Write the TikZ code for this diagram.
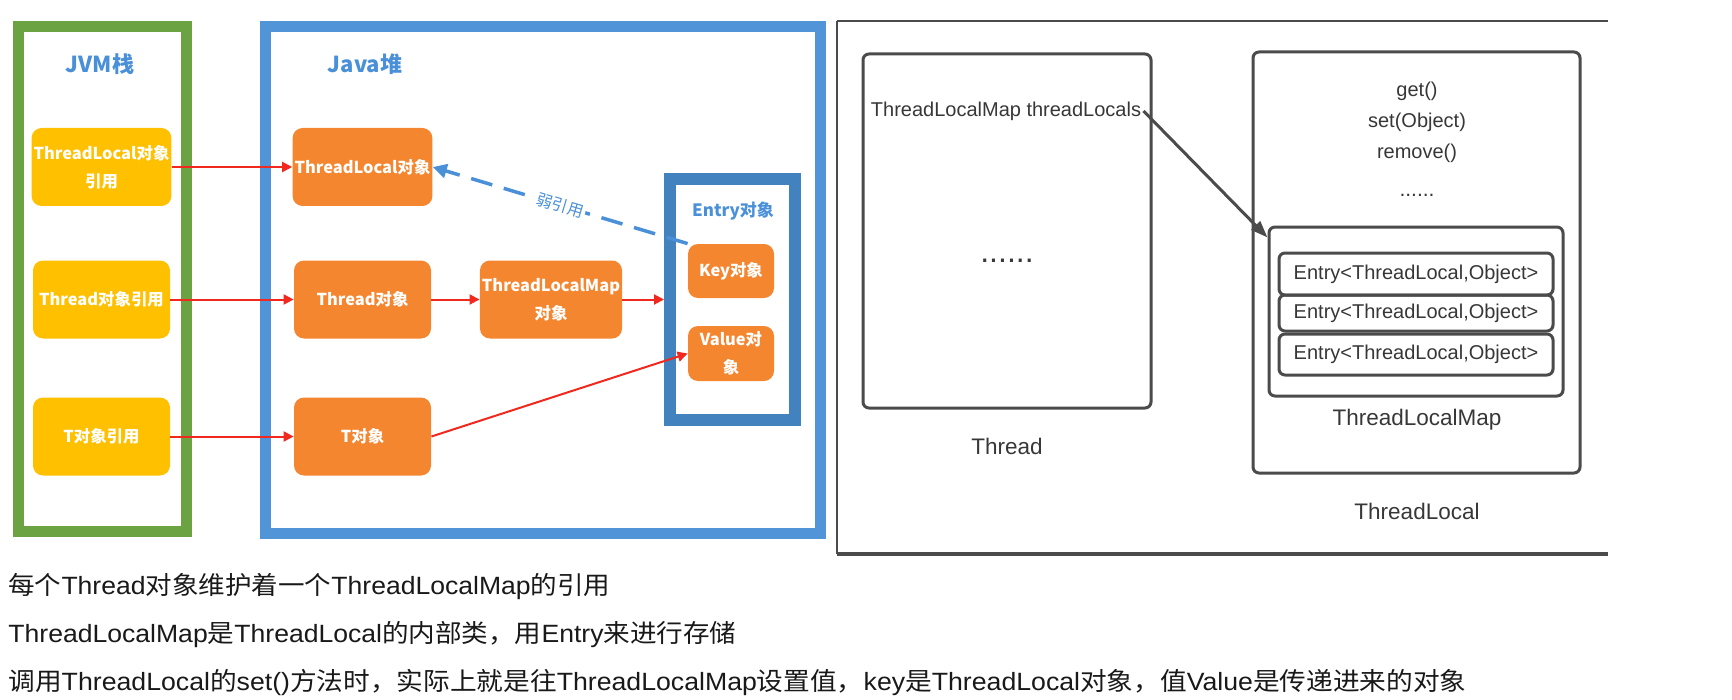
\documentclass[tikz,border=0pt]{standalone}
\usepackage{graphicx}
\usepackage{fontspec}
\setmainfont{Liberation Sans}
\newfontfamily\cjk{Noto Sans CJK SC}
\usetikzlibrary{arrows.meta,calc}
\definecolor{jgreen}{RGB}{108,163,66}
\definecolor{jblue}{RGB}{82,148,216}
\definecolor{eblue}{RGB}{66,131,191}
\definecolor{lblue}{RGB}{74,144,217}
\definecolor{jyel}{RGB}{255,192,0}
\definecolor{jorg}{RGB}{245,134,48}
\definecolor{rline}{RGB}{240,40,30}
\definecolor{dgray}{RGB}{75,75,75}
\definecolor{tgray}{RGB}{55,55,55}
\begin{document}
\begin{tikzpicture}[x=0.5pt,y=-0.5pt,
  container/.style={draw, line width=5.5pt, inner sep=0pt},
  objbox/.style={rectangle, rounded corners=5pt, text=white, align=center,
    font=\cjk\bfseries\fontsize{8.2}{14}\selectfont, inner sep=1pt},
  yelbox/.style={objbox, fill=jyel, minimum width=68.5pt, minimum height=39pt},
  orgbox/.style={objbox, fill=jorg, minimum width=68.5pt, minimum height=39pt},
  smallbox/.style={objbox, fill=jorg, minimum width=43pt},
  headlbl/.style={text=lblue, font=\cjk\bfseries\fontsize{11}{13}\selectfont},
  redarrow/.style={draw=rline, line width=1pt, -{Triangle[length=5pt,width=5pt]}},
  grayframe/.style={draw=dgray, line width=1.5pt, rounded corners=3pt, inner sep=0pt},
  rtext/.style={text=tgray, font=\fontsize{10}{12}\selectfont, inner sep=1pt},
  rlabel/.style={text=tgray, font=\fontsize{11.25}{13}\selectfont},
  bottomtext/.style={anchor=west, inner sep=0pt, text=black!90, font=\fontsize{12.5}{15}\selectfont}
]
\useasboundingbox (0,0) rectangle (1732,700);

% ---------- left panel ----------
\node[container, draw=jgreen, minimum width=84pt, minimum height=252.5pt] (jvm) at (102.5,279) {};
\node[container, draw=jblue, minimum width=277.5pt, minimum height=253.5pt] (heap) at (543,280) {};
\node[headlbl] (jvmlbl) at (100,64) {JVM栈};
\node[headlbl] (heaplbl) at (365,64) {Java堆};

\node[yelbox] (ytl) at (101.5,167) {ThreadLocal对象\\引用};
\node[yelbox] (yth) at (101.5,299.5) {Thread对象引用};
\node[yelbox] (yt) at (101.5,436.5) {T对象引用};

\node[orgbox] (otl) at (362.5,167) {ThreadLocal对象};
\node[orgbox] (oth) at (362.5,299.5) {Thread对象};
\node[orgbox] (ot) at (362.5,436.5) {T对象};
\node[orgbox, minimum width=68pt] (otlm) at (551,299.5) {ThreadLocalMap\\对象};

\node[draw=eblue, line width=6pt, inner sep=0pt, minimum width=62.5pt, minimum height=120.5pt] (entry) at (732.5,299.5) {};
\node[text=lblue, font=\cjk\bfseries\fontsize{8.5}{10}\selectfont] (entrylbl) at (733,211) {Entry对象};
\node[smallbox, minimum height=27pt] (key) at (731,271) {Key对象};
\node[smallbox, minimum height=27.5pt] (val) at (731,353.5) {Value对\\象};

\draw[redarrow] (ytl) -- (otl);
\draw[redarrow] (yth) -- (oth);
\draw[redarrow] (yt) -- (ot);
\draw[redarrow] (oth) -- (otlm);
\draw[redarrow] (otlm) -- (entry.west |- otlm);
\draw[redarrow] (ot.east) -- (val.west);
\draw[draw=lblue, line width=1.75pt, dash pattern=on 11pt off 6pt,
      -{Triangle[length=7pt,width=7pt]}]
  (key.north west) -- node[sloped, fill=white, inner sep=1pt, text=lblue,
     font=\cjk\fontsize{8}{10}\selectfont] (weak) {弱引用} (otl.east);

% ---------- right panel ----------
\coordinate (ftl) at (837,21);
\coordinate (ftr) at (1608,21);
\coordinate (fbl) at (837,554);
\coordinate (fbr) at (1608,554);
\draw[dgray, line width=0.8pt] (ftl) -- (ftr);
\draw[dgray, line width=1pt] (ftl) -- (fbl);
\draw[dgray, line width=2pt] (fbl) -- (fbr);

\node[grayframe, minimum width=144pt, minimum height=177pt] (thread) at (1007,231) {};
\node[rtext] (tlfield) at (1006,111) {ThreadLocalMap threadLocals};
\node[text=tgray, font=\fontsize{16}{18}\selectfont] (tdots) at (1007,261) {......};
\node[rlabel] (threadlbl) at (1007,446) {Thread};

\node[grayframe, minimum width=163.5pt, minimum height=210.5pt] (tlocal) at (1416.5,262.5) {};
\node[rtext] (mget) at (1417,91) {get()};
\node[rtext] (mset) at (1417,122) {set(Object)};
\node[rtext] (mrem) at (1417,153) {remove()};
\node[text=tgray, font=\fontsize{10.5}{12}\selectfont] (mdots) at (1417,195) {......};

\node[grayframe, minimum width=147pt, minimum height=84.5pt] (tlm) at (1416,311.5) {};
\node[grayframe, minimum width=137pt, minimum height=21pt, rtext] (e1) at (1416,274) {Entry<ThreadLocal,Object>};
\node[grayframe, minimum width=137pt, minimum height=18pt, rtext] (e2) at (1416,313) {Entry<ThreadLocal,Object>};
\node[grayframe, minimum width=137pt, minimum height=20.5pt, rtext] (e3) at (1416,354.5) {Entry<ThreadLocal,Object>};
\node[rlabel] (tlmlbl) at (1417,420) {ThreadLocalMap};
\node[rlabel] (tllbl) at (1417,511) {ThreadLocal};

\draw[dgray, line width=1.5pt, -{Triangle[length=8.5pt,width=6pt]}]
  (tlfield.east) -- ($(tlm.north west)+(0,12)$);

% ---------- bottom text ----------
\node[bottomtext] (t1) at (8,587) {\resizebox{301pt}{\height}{{\cjk 每个}Thread{\cjk 对象维护着一个}ThreadLocalMap{\cjk 的引用}}};
\node[bottomtext] (t2) at (8,635) {\resizebox{364pt}{\height}{ThreadLocalMap{\cjk 是}ThreadLocal{\cjk 的内部类，用}Entry{\cjk 来进行存储}}};
\node[bottomtext] (t3) at (8,682) {\resizebox{729pt}{\height}{{\cjk 调用}ThreadLocal{\cjk 的}set(){\cjk 方法时，实际上就是往}ThreadLocalMap{\cjk 设置值，}key{\cjk 是}ThreadLocal{\cjk 对象，值}Value{\cjk 是传递进来的对象}}};
\end{tikzpicture}
\end{document}
